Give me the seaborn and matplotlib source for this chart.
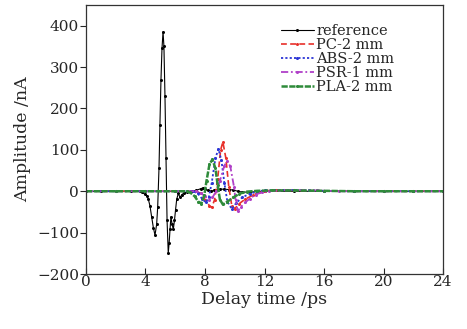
import numpy as np
import pandas as pd
import matplotlib
matplotlib.use("Agg")
import matplotlib.pyplot as plt
import seaborn as sns

# delay time (ps) and amplitude (nA)
t_ref = [0, 1, 2, 3, 3.6, 3.75, 3.95, 4.1, 4.19, 4.30, 4.42, 4.53, 4.64, 4.75, 4.82,
         4.91, 4.97, 5.04, 5.11, 5.18, 5.24, 5.31, 5.38, 5.45, 5.53, 5.59, 5.65,
         5.71, 5.79, 5.87, 5.95, 6.02, 6.10, 6.21, 6.32, 6.45, 6.6, 6.8, 7.1, 7.4,
         7.7, 7.85, 8.0, 8.2, 8.4, 8.6, 8.8, 9.0, 9.3, 9.6, 9.9, 10.2, 10.5, 11,
         11.5, 12, 14, 16, 18, 20, 22, 24]
v_ref = [0, 0, 0, 0, 0, -2, -7, -12, -19, -35, -63, -88, -106, -80, -39,
         57, 159, 268, 345, 385, 350, 230, 80, -70, -149, -125, -92,
         -62, -80, -92, -70, -45, -19, -5, -15, -8, -4, -2, 0, 2,
         6, 8, 6, 2, 0, 2, 4, 5, 5, 4, 3, 0, -2, -2,
         -1, 0, 0, 0, 0, 0, 0, 0]

t_pc = [0, 2, 4, 6, 7.4, 7.7, 8.0, 8.3, 8.45, 8.65, 8.85, 9.05, 9.2, 9.4, 9.6,
        9.8, 10.0, 10.3, 10.7, 11.2, 11.6, 12.0, 12.8, 14, 16, 18, 20, 22, 24]
v_pc = [0, 0, 0, 0, 0, -5, -20, -35, -39, -20, 30, 100, 119, 80, 10,
        -35, -42, -30, -19, -10, -3, 1, 3, 2, 1, 0, 0, 0, 0]

t_abs = [0, 2, 4, 6, 7.2, 7.5, 7.8, 8.05, 8.25, 8.45, 8.7, 8.9, 9.1, 9.3, 9.5,
         9.8, 10.1, 10.5, 11.0, 11.5, 12.0, 13, 14, 15, 16, 18, 20, 22, 24]
v_abs = [0, 0, 0, 0, 0, -5, -18, -27, -15, 20, 80, 102, 75, 20, -25,
         -43, -28, -15, -6, -1, 2, 3, 3, 2, 1, 0, 0, 0, 0]

t_psr = [0, 2, 4, 6, 7.4, 7.7, 8.0, 8.25, 8.5, 8.75, 9.0, 9.3, 9.5, 9.7, 9.95,
         10.05, 10.2, 10.4, 10.7, 11.0, 11.4, 11.8, 12.3, 13, 14, 15.5, 17, 20, 24]
v_psr = [0, 0, 0, 0, 0, -4, -12, -20, -15, 0, 25, 62, 73, 60, 10,
         -20, -48, -38, -27, -18, -8, -3, 0, 2, 3, 2, 0, 0, 0]

t_pla = [0, 2, 4, 6, 6.8, 7.0, 7.3, 7.55, 7.75, 7.95, 8.1, 8.3, 8.5, 8.7, 8.85,
         9.0, 9.2, 9.5, 9.9, 10.3, 10.8, 11.5, 12.5, 14, 16, 18, 20, 22, 24]
v_pla = [0, 0, 0, 0, 0, -3, -12, -25, -30, -10, 25, 65, 77, 55, 15,
         -20, -32, -25, -15, -6, -1, 1, 2, 2, 1, 0, 0, 0, 0]

x_ticks = [0, 4, 8, 12, 16, 20, 24]
y_ticks = [-200, -100, 0, 100, 200, 300, 400]

sns.set_style("ticks")
plt.rcParams["font.family"] = ["DejaVu Serif"]
plt.rcParams["mathtext.fontset"] = "dejavuserif"

fig = plt.figure(figsize=(4.67, 3.29), dpi=100)
ax = fig.add_axes([0.184, 0.167, 0.765, 0.818])

series = [
    ("reference", t_ref, v_ref, "black", "-", 0.8),
    ("PC-2 mm", t_pc, v_pc, "#e8302a", (0, (3.5, 2)), 1.2),
    ("ABS-2 mm", t_abs, v_abs, "#2b35d6", (0, (1.2, 1.2)), 1.3),
    ("PSR-1 mm", t_psr, v_psr, "#b040c8", (0, (4, 1.5, 1, 1.5)), 1.3),
    ("PLA-2 mm", t_pla, v_pla, "#2e8b3a", (0, (2.5, 0.6)), 1.8),
]
for name, t, v, c, ls, lw in series:
    df = pd.DataFrame({"t": t, "v": v})
    sns.lineplot(data=df, x="t", y="v", ax=ax, color=c, linestyle=ls, lw=lw,
                 marker="o", ms=2.2, mew=0, estimator=None, label=name)

ax.set_xlim(0, 24)
ax.set_ylim(-200, 450)
ax.set_xticks(x_ticks)
ax.set_yticks(y_ticks)
ax.tick_params(axis="x", direction="in", length=4.5, width=0.8, labelsize=11, pad=1)
ax.tick_params(axis="y", direction="out", length=4, width=0.8, labelsize=11, pad=1)
for s in ax.spines.values():
    s.set_visible(True)
    s.set_linewidth(0.9)
    s.set_color("#333333")
ax.set_xlabel("Delay time /ps", fontsize=12.5, labelpad=1)
ax.set_ylabel("Amplitude /nA", fontsize=12.5, labelpad=4)

leg = ax.legend(loc="upper left", bbox_to_anchor=(0.545, 0.93), frameon=False,
                fontsize=10.5, handlelength=2.3, handletextpad=0.15,
                labelspacing=0.0, borderpad=0, borderaxespad=0)

fig.savefig("out.png", dpi=100)
